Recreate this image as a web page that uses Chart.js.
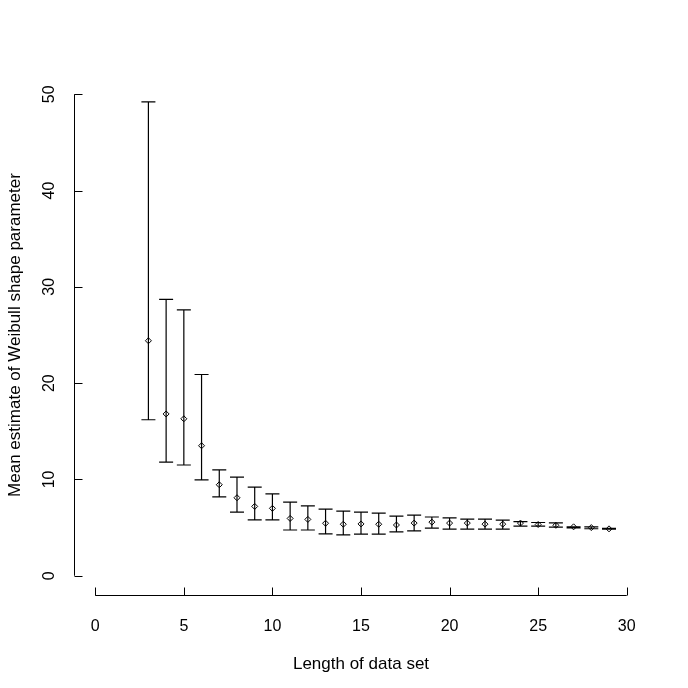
<!DOCTYPE html>
<html>
<head>
<meta charset="utf-8">
<script src="https://cdn.jsdelivr.net/npm/chart.js@4"></script>
<style>
  html, body { margin: 0; padding: 0; background: #fff; }
  #wrap { width: 688px; height: 688px; }
</style>
</head>
<body>
<div id="wrap"><canvas id="weibullChart"></canvas></div>
<script>
// Length of data set (x)
const lengths = [3, 4, 5, 6, 7, 8, 9, 10, 11, 12, 13, 14, 15, 16, 17, 18, 19, 20,
  21, 22, 23, 24, 25, 26, 27, 28, 29];

// Mean estimate of the shape parameter
const means = [24.4, 16.8, 16.3, 13.5, 9.45, 8.1, 7.2, 7.0, 5.95, 5.85, 5.45, 5.35,
  5.38, 5.35, 5.27, 5.47, 5.57, 5.47, 5.47, 5.36, 5.36, 5.47, 5.32, 5.24, 5.08, 5.0, 4.87];

// Error bar ends
const upper = [49.2, 28.7, 27.6, 20.9, 11.0, 10.25, 9.2, 8.5, 7.65, 7.25, 6.92, 6.72,
  6.6, 6.5, 6.2, 6.3, 6.1, 6.0, 5.88, 5.88, 5.78, 5.63, 5.53, 5.5, 5.08, 5.08, 4.93];
const lower = [16.2, 11.8, 11.5, 9.95, 8.2, 6.6, 5.8, 5.8, 4.75, 4.75, 4.35, 4.25,
  4.32, 4.32, 4.55, 4.65, 4.95, 4.85, 4.85, 4.85, 4.85, 5.15, 5.15, 5.05, 4.98, 4.88, 4.83];

// Tick labels
const xTicks = [0, 5, 10, 15, 20, 25, 30];
const yTicks = [0, 10, 20, 30, 40, 50];

const font = "'Liberation Sans', Arial, sans-serif";

// error bars with caps
const errorBars = {
  id: "errorBars",
  afterDatasetsDraw(chart) {
    const { ctx, scales: { x, y } } = chart;
    ctx.save();
    ctx.strokeStyle = "#000";
    ctx.lineWidth = 1.2;
    ctx.beginPath();
    lengths.forEach((v, i) => {
      const px = x.getPixelForValue(v);
      const top = y.getPixelForValue(upper[i]);
      const bot = y.getPixelForValue(lower[i]);
      ctx.moveTo(px, top); ctx.lineTo(px, bot);
      ctx.moveTo(px - 7, top); ctx.lineTo(px + 7, top);
      ctx.moveTo(px - 7, bot); ctx.lineTo(px + 7, bot);
    });
    ctx.stroke();
    ctx.restore();
  }
};

// axis lines spanning first to last tick, tick marks pointing inward
const axisLines = {
  id: "axisLines",
  afterDraw(chart) {
    const { ctx, chartArea, scales: { x, y } } = chart;
    const tick = 8;
    ctx.save();
    ctx.strokeStyle = "#000";
    ctx.lineWidth = 1;
    ctx.beginPath();
    const bx = Math.round(chartArea.bottom) + 0.5;
    ctx.moveTo(x.getPixelForValue(xTicks[0]), bx);
    ctx.lineTo(x.getPixelForValue(xTicks[xTicks.length - 1]), bx);
    x.ticks.forEach(t => {
      const px = Math.round(x.getPixelForValue(t.value)) + 0.5;
      ctx.moveTo(px, bx); ctx.lineTo(px, bx - tick);
    });
    const ly = Math.round(chartArea.left) + 0.5;
    ctx.moveTo(ly, y.getPixelForValue(yTicks[0]));
    ctx.lineTo(ly, y.getPixelForValue(yTicks[yTicks.length - 1]));
    y.ticks.forEach(t => {
      const py = Math.round(y.getPixelForValue(t.value)) + 0.5;
      ctx.moveTo(ly, py); ctx.lineTo(ly + tick, py);
    });
    ctx.stroke();
    ctx.restore();
  }
};

new Chart(document.getElementById("weibullChart"), {
  type: "scatter",
  data: {
    datasets: [{
      data: lengths.map((v, i) => ({ x: v, y: means[i] })),
      pointStyle: "rectRot",
      pointRadius: 3,
      pointBorderWidth: 1,
      pointBorderColor: "#000",
      pointBackgroundColor: "#fff"
    }]
  },
  options: {
    responsive: true,
    maintainAspectRatio: false,
    animation: false,
    layout: { padding: { left: 0, right: 40, top: 75, bottom: 0 } },
    plugins: { legend: { display: false }, tooltip: { enabled: false } },
    scales: {
      x: {
        type: "linear",
        min: -1.2,
        max: 31.2,
        afterBuildTicks: s => { s.ticks = xTicks.map(v => ({ value: v })); },
        afterFit: s => { s.height = 93; },
        border: { display: false },
        grid: { display: false, drawTicks: false },
        ticks: { color: "#000", font: { family: font, size: 16 }, padding: 22, maxRotation: 0 },
        title: {
          display: true,
          text: "Length of data set",
          color: "#000",
          font: { family: font, size: 17 },
          padding: { top: 10, bottom: 13 }
        }
      },
      y: {
        type: "linear",
        min: -2,
        max: 52,
        afterBuildTicks: s => { s.ticks = yTicks.map(v => ({ value: v })); },
        afterFit: s => { s.width = 74; },
        border: { display: false },
        grid: { display: false, drawTicks: false },
        ticks: {
          color: "#000", font: { family: font, size: 16 }, padding: 16,
          minRotation: 90, maxRotation: 90, crossAlign: "center"
        },
        title: {
          display: true,
          text: "Mean estimate of Weibull shape parameter",
          color: "#000",
          font: { family: font, size: 17 },
          padding: { top: 5, bottom: 10 }
        }
      }
    }
  },
  plugins: [errorBars, axisLines]
});
</script>
</body>
</html>
